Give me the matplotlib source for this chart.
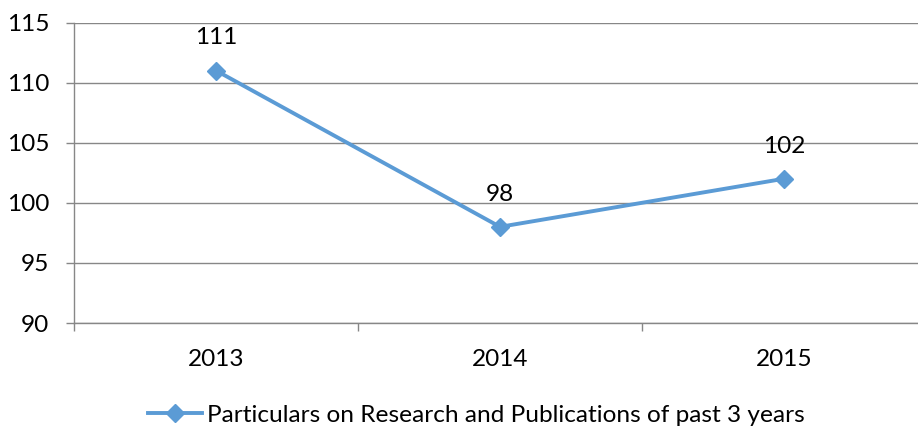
import matplotlib
matplotlib.use("Agg")
import matplotlib.pyplot as plt
from matplotlib.ticker import FixedLocator, NullFormatter, FixedFormatter

categories = ["2013", "2014", "2015"]
values = [111, 98, 102]
series_name = "Particulars on Research and Publications of past 3 years"
y_ticks = [90, 95, 100, 105, 110, 115]

plt.rcParams['font.family'] = ['Lato', 'DejaVu Sans']
FS = 17.6
W, H = 918, 429
fig = plt.figure(figsize=(W / 100, H / 100), dpi=100)
left, right, top, bottom = 74, 926, 22.5, 323
ax = fig.add_axes([left / W, 1 - bottom / H, (right - left) / W, (bottom - top) / H])

blue = "#5B9BD5"
grey = "#878787"
x = list(range(len(categories)))
line, = ax.plot(x, values, color=blue, lw=2.8, marker="D", ms=9, label=series_name, zorder=3,
                clip_on=False)

for xi, v in zip(x, values):
    ax.annotate(str(v), (xi, v), xytext=(0, 23.5), textcoords="offset points",
                ha="center", va="center", fontsize=FS, color="black")

ax.set_xlim(-0.5, len(categories) - 0.5)
ax.set_ylim(y_ticks[0], y_ticks[-1])
ax.set_yticks(y_ticks)
ax.set_yticklabels([str(t) for t in y_ticks], fontsize=FS)
ax.yaxis.grid(True, color=grey, lw=1.0)
ax.set_axisbelow(True)

ax.xaxis.set_major_locator(FixedLocator([i - 0.5 for i in range(len(categories) + 1)]))
ax.xaxis.set_major_formatter(NullFormatter())
ax.xaxis.set_minor_locator(FixedLocator(x))
ax.xaxis.set_minor_formatter(FixedFormatter(categories))
ax.tick_params(axis="x", which="minor", length=0, pad=19, labelsize=FS)
ax.tick_params(axis="x", which="major", length=5.8, width=1.0, color=grey, direction="out")
ax.tick_params(axis="y", length=5.8, width=1.0, color=grey, pad=12)

for s in ["top", "right"]:
    ax.spines[s].set_visible(False)
for s in ["left", "bottom"]:
    ax.spines[s].set_color(grey)
    ax.spines[s].set_linewidth(1.0)

fig.legend(handles=[line], labels=[series_name], loc="center",
           bbox_to_anchor=(476.5 / W, 1 - 415 / H), frameon=False, fontsize=FS,
           handlelength=2.2, handletextpad=0.2)

fig.savefig("out.png", dpi=100)
